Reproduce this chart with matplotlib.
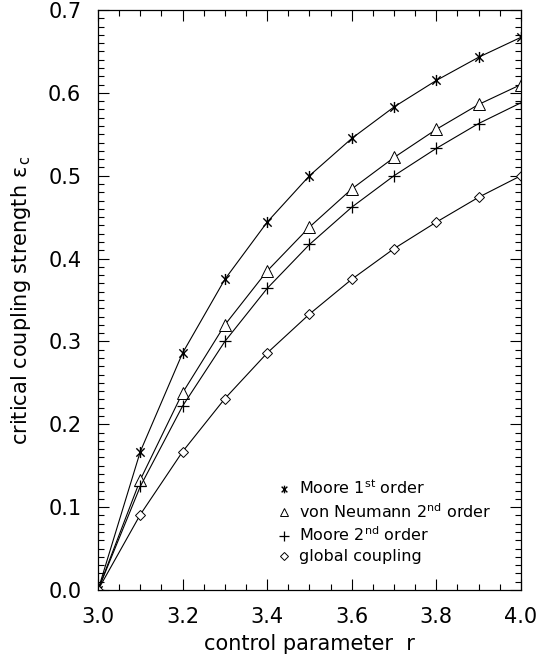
import matplotlib
matplotlib.use("Agg")
import matplotlib.pyplot as plt
from matplotlib.lines import Line2D
from matplotlib.path import Path
from matplotlib.ticker import MultipleLocator, FormatStrFormatter

# ---------------------------------------------------------------------------
# Data
# ---------------------------------------------------------------------------
r = [3.0, 3.1, 3.2, 3.3, 3.4, 3.5, 3.6, 3.7, 3.8, 3.9, 4.0]
moore_1st = [0.0, 0.167, 0.286, 0.375, 0.444, 0.500, 0.545, 0.583, 0.615, 0.643, 0.667]
neumann_2nd = [0.0, 0.133, 0.238, 0.320, 0.385, 0.438, 0.484, 0.522, 0.556, 0.586, 0.610]
moore_2nd = [0.0, 0.125, 0.222, 0.300, 0.364, 0.417, 0.462, 0.500, 0.533, 0.563, 0.588]
global_coupling = [0.0, 0.091, 0.167, 0.231, 0.286, 0.333, 0.375, 0.412, 0.444, 0.474, 0.500]

labels = [
    r"Moore 1$^{\mathrm{st}}$ order",
    r"von Neumann 2$^{\mathrm{nd}}$ order",
    r"Moore 2$^{\mathrm{nd}}$ order",
    "global coupling",
]

plt.rcParams["font.family"] = "DejaVu Sans"
plt.rcParams["mathtext.default"] = "regular"

# asterisk marker: vertical bar plus an X (IDL style)
star = Path([(0, -1), (0, 1), (-0.75, -0.75), (0.75, 0.75), (-0.75, 0.75), (0.75, -0.75)],
            [Path.MOVETO, Path.LINETO, Path.MOVETO, Path.LINETO, Path.MOVETO, Path.LINETO])

fig = plt.figure(figsize=(5.37, 6.59), dpi=100)
ax = fig.add_axes([0.1825, 0.1047, 0.7875, 0.8801])

series = [
    (moore_1st, dict(marker=star, mew=1.0), 8, 5.5),
    (neumann_2nd, dict(marker="^", mfc="white", mew=0.7), 8, 6),
    (moore_2nd, dict(marker="+", mew=0.9), 8, 6.5),
    (global_coupling, dict(marker="D", mfc="white", mew=0.7), 5.5, 4.5),
]

handles = []
for ys, style, ms, ms_leg in series:
    ax.plot(r, ys, color="black", lw=0.8, mec="black", ms=ms, **style)
    handles.append(Line2D([], [], color="black", ls="none", mec="black", ms=ms_leg, **style))

ax.set_xlim(3.0, 4.0)
ax.set_ylim(0.0, 0.7)
ax.xaxis.set_major_locator(MultipleLocator(0.2))
ax.xaxis.set_minor_locator(MultipleLocator(0.05))
ax.yaxis.set_major_locator(MultipleLocator(0.1))
ax.yaxis.set_minor_locator(MultipleLocator(0.01))
ax.xaxis.set_major_formatter(FormatStrFormatter("%.1f"))
ax.yaxis.set_major_formatter(FormatStrFormatter("%.1f"))

ax.tick_params(which="both", direction="in", top=True, right=True,
               width=0.8, labelsize=15, pad=12)
ax.tick_params(which="major", length=8)
ax.tick_params(which="minor", length=4)
for s in ax.spines.values():
    s.set_linewidth(0.9)

ax.set_xlabel("control parameter  r", fontsize=15, labelpad=5)
ax.set_ylabel(r"critical coupling strength $\epsilon_{\,c}$", fontsize=15, labelpad=11)

ax.legend(handles, labels, loc="upper left", bbox_to_anchor=(0.405, 0.203),
          frameon=False, fontsize=11.5, handlelength=1.0, handletextpad=0.45,
          labelspacing=0.3, borderaxespad=0)

fig.savefig("out.png", dpi=100)
